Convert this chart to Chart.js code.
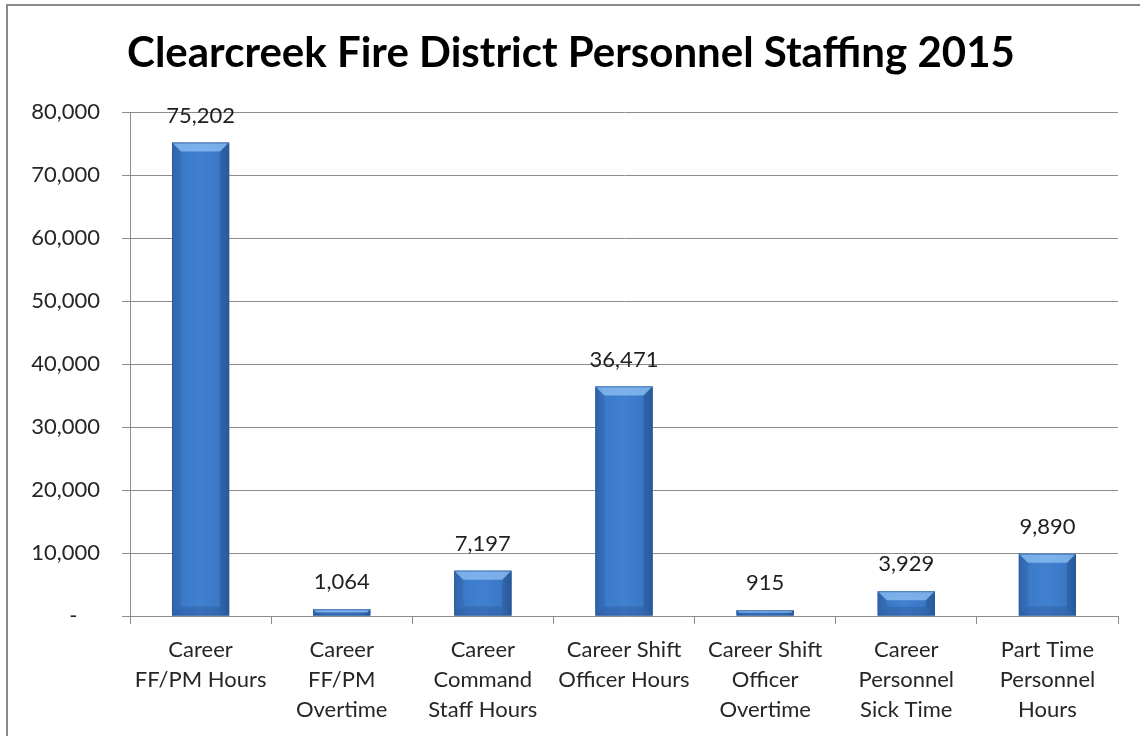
<!DOCTYPE html>
<html>
<head>
<meta charset="utf-8">
<script src="https://cdn.jsdelivr.net/npm/chart.js@4/dist/chart.umd.min.js"></script>
<style>
  html, body { margin: 0; padding: 0; background: #fff; }
  #wrap { width: 1140px; height: 736px; }
</style>
</head>
<body>
<div id="wrap"><canvas id="staffing" width="1140" height="736"></canvas></div>
<script>
// Clearcreek Fire District personnel staffing, 2015 (hours)
const categories = [
  ['Career', 'FF/PM Hours'],
  ['Career', 'FF/PM', 'Overtime'],
  ['Career', 'Command', 'Staff Hours'],
  ['Career Shift', 'Officer Hours'],
  ['Career Shift', 'Officer', 'Overtime'],
  ['Career', 'Personnel', 'Sick Time'],
  ['Part Time', 'Personnel', 'Hours']
];
const hours = [75202, 1064, 7197, 36471, 915, 3929, 9890];
const yTicks = [0, 10000, 20000, 30000, 40000, 50000, 60000, 70000, 80000];

const FONT = 'Lato, "Open Sans", sans-serif';
const GRID = '#8c8c8c';

const fmt = v => v === 0 ? '-    ' : v.toLocaleString('en-US');

// white page + outer frame of the chart object
const frame = {
  id: 'frame',
  beforeDraw(chart) {
    const c = chart.ctx;
    c.save();
    c.fillStyle = '#fff';
    c.fillRect(0, 0, chart.width, chart.height);
    c.strokeStyle = '#8a8a8a';
    c.lineWidth = 2;
    c.strokeRect(7, 5, chart.width + 20, chart.height + 20);
    c.restore();
  }
};

// bevelled look for the columns, plus value labels
const bevel = {
  id: 'bevel',
  afterDatasetsDraw(chart) {
    const c = chart.ctx;
    const meta = chart.getDatasetMeta(0);
    c.save();
    meta.data.forEach((bar, i) => {
      const w = bar.width, l = bar.x - w / 2, r = bar.x + w / 2;
      const t = bar.y, b = bar.base, h = b - t;
      const g = c.createLinearGradient(l, 0, r, 0);
      g.addColorStop(0, '#3169b0');
      g.addColorStop(0.2, '#3c7bca');
      g.addColorStop(0.5, '#4180cf');
      g.addColorStop(0.8, '#3b79c7');
      g.addColorStop(1, '#2f64a8');
      c.fillStyle = g;
      c.fillRect(l, t, w, h);
      const d = Math.min(9, h / 2);
      // top bevel
      c.fillStyle = 'rgba(150,198,248,0.7)';
      c.beginPath();
      c.moveTo(l, t); c.lineTo(r, t); c.lineTo(r - d, t + d); c.lineTo(l + d, t + d);
      c.closePath(); c.fill();
      // side bevels
      c.fillStyle = 'rgba(40,85,150,0.2)';
      c.beginPath();
      c.moveTo(l, t); c.lineTo(l + d, t + d); c.lineTo(l + d, b - d); c.lineTo(l, b);
      c.closePath(); c.fill();
      c.fillStyle = 'rgba(25,60,115,0.28)';
      c.beginPath();
      c.moveTo(r, t); c.lineTo(r - d, t + d); c.lineTo(r - d, b - d); c.lineTo(r, b);
      c.closePath(); c.fill();
      // bottom bevel
      c.fillStyle = 'rgba(30,65,120,0.25)';
      c.beginPath();
      c.moveTo(l, b); c.lineTo(r, b); c.lineTo(r - d, b - d); c.lineTo(l + d, b - d);
      c.closePath(); c.fill();
      c.strokeStyle = 'rgba(45,85,145,0.55)';
      c.lineWidth = 1;
      c.strokeRect(l + 0.5, t + 0.5, w - 1, h - 1);

      c.fillStyle = '#1f1f1f';
      c.font = '22px ' + FONT;
      c.textAlign = 'center';
      c.textBaseline = 'middle';
      c.fillText(hours[i].toLocaleString('en-US'), bar.x, t - 27);
    });
    c.restore();
  }
};

new Chart(document.getElementById('staffing'), {
  type: 'bar',
  data: {
    labels: categories,
    datasets: [{
      data: hours,
      backgroundColor: '#3a78c6',
      categoryPercentage: 1,
      barPercentage: 0.405
    }]
  },
  options: {
    responsive: false,
    animation: false,
    layout: { padding: { left: 24, right: 22, top: 0, bottom: 0 } },
    plugins: {
      legend: { display: false },
      tooltip: { enabled: false },
      title: {
        display: true,
        text: 'Clearcreek Fire District Personnel Staffing 2015',
        color: '#000',
        font: { family: FONT, size: 42, weight: 'bold', lineHeight: 1.2 },
        padding: { top: 28, bottom: 34 }
      }
    },
    scales: {
      x: {
        grid: { drawOnChartArea: false, drawTicks: true, tickLength: 8, color: GRID },
        border: { color: GRID },
        ticks: {
          color: '#262626',
          padding: 11,
          maxRotation: 0,
          autoSkip: false,
          font: { family: FONT, size: 22, lineHeight: 1.37 }
        },
        afterFit(s) { s.height = 120; }
      },
      y: {
        min: 0,
        max: 80000,
        afterBuildTicks(s) { s.ticks = yTicks.map(v => ({ value: v })); },
        grid: { color: GRID, tickLength: 8 },
        border: { color: GRID },
        ticks: {
          color: '#262626',
          padding: 22,
          font: { family: FONT, size: 22 },
          callback: fmt
        },
        afterFit(s) { s.width = 106; }
      }
    }
  },
  plugins: [frame, bevel]
});
</script>
</body>
</html>
